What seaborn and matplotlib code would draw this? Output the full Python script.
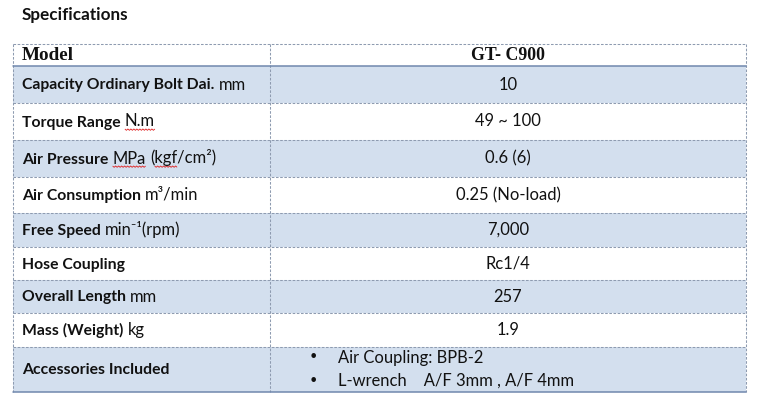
import numpy as np
import matplotlib
matplotlib.use("Agg")
import matplotlib.pyplot as plt
import seaborn as sns
from matplotlib.patches import Rectangle

# table content
title = "Specifications"
header_label = "Model"
header_value = "GT- C900"
spec_names = ["Capacity Ordinary Bolt Dai.", "Torque Range", "Air Pressure", "Air Consumption",
              "Free Speed", "Hose Coupling", "Overall Length", "Mass (Weight)", "Accessories Included"]
spec_units = ["mm", "N.m", "MPa (kgf/cm²)", "m³/min", "min⁻¹(rpm)", "", "mm", "kg", ""]
spec_values = ["10", "49 ~ 100", "0.6 (6)", "0.25 (No-load)", "7,000", "Rc1/4", "257", "1.9", None]
accessories = ["Air Coupling: BPB-2", "L-wrench    A/F 3mm , A/F 4mm"]
misspelled = ["N.m", "MPa", "kgf"]

# layout (pixels)
W, H = 760, 404
x_left, x_mid, x_right = 13, 270, 746
y_top, y_head = 44, 66
row_edges = [66, 103, 140, 177, 213, 247, 280, 313, 347, 392]
shade = "#D3DFEE"
dash_col = "#8E9BB0"
solid_col = "#7088AE"
txt_col = "#111111"
SANS = ["Lato", "DejaVu Sans"]
FS_B = 11.3   # bold labels
FS = 11.9     # regular text
BASE = 5.0    # baseline offset below row centre

sns.set_theme(style="white")
plt.rcParams["font.family"] = SANS

fig = plt.figure(figsize=(W / 100, H / 100), dpi=100)
ax = fig.add_axes([0, 0, 1, 1])
ax.set_xlim(0, W)
ax.set_ylim(H, 0)
ax.axis("off")
renderer = fig.canvas.get_renderer()


def text_width(s, weight, size):
    t = ax.text(0, 0, s, fontsize=size, fontweight=weight, family=SANS)
    w = t.get_window_extent(renderer).width
    t.remove()
    return w


space_w = text_width("x x", "normal", FS) - text_width("xx", "normal", FS)


def squiggle(x0, x1, y):
    xs = np.arange(x0, x1 + 0.1, 1.5)
    ys = y + np.where(np.arange(len(xs)) % 2 == 0, 0.0, 1.3)
    ax.plot(xs, ys, color="#E02020", lw=0.6, solid_capstyle="butt")


def draw_label(x, yc, name, unit):
    y = yc + BASE
    t = ax.text(x, y, name, fontsize=FS_B, fontweight="bold", va="baseline", ha="left", color=txt_col)
    x += t.get_window_extent(renderer).width + space_w
    for tok in unit.split(" "):
        if not tok:
            continue
        ax.text(x, y, tok, fontsize=FS, va="baseline", ha="left", color=txt_col)
        for word in misspelled:
            i = tok.find(word)
            if i >= 0:
                a = x + (text_width(tok[:i], "normal", FS) if i > 0 else 0)
                b = a + text_width(word, "normal", FS)
                squiggle(a, b, y + 2.5)
        x += text_width(tok, "normal", FS) + space_w


# shaded rows
for i in range(len(spec_names)):
    if i % 2 == 0:
        ax.add_patch(Rectangle((x_left, row_edges[i]), x_right - x_left,
                               row_edges[i + 1] - row_edges[i], color=shade, lw=0, zorder=0))

dash = dict(color=dash_col, lw=0.75, linestyle=(0, (2.5, 1.5)), zorder=2)
solid = dict(color=solid_col, lw=1.1, zorder=3)

ax.plot([x_left, x_right], [y_top, y_top], **dash)
ax.plot([x_left, x_right], [y_head, y_head], **solid)
for y in row_edges[1:-1]:
    ax.plot([x_left, x_right], [y, y], **dash)
ax.plot([x_left, x_right], [row_edges[-1], row_edges[-1]], **solid)
for x in (x_left, x_mid, x_right):
    ax.plot([x, x], [y_top, row_edges[-1]], **dash)

# title and header
ax.text(22, 15, title, fontsize=12.3, fontweight="bold", va="center", color=txt_col)
ax.text(22, 55, header_label, fontsize=13.8, fontweight="bold", family="Liberation Serif",
        va="center", color=txt_col)
ax.text((x_mid + x_right) / 2, 55, header_value, fontsize=12.8, fontweight="bold",
        family="Liberation Serif", va="center", ha="center", color=txt_col)

# rows
for i, (name, unit, val) in enumerate(zip(spec_names, spec_units, spec_values)):
    yc = (row_edges[i] + row_edges[i + 1]) / 2
    draw_label(22, yc, name, unit)
    if val is not None:
        ax.text((x_mid + x_right) / 2, yc + BASE, val, fontsize=FS, va="baseline", ha="center",
                color=txt_col)
    else:
        top = row_edges[i]
        for j, item in enumerate(accessories):
            yy = top + 11 + j * 23
            ax.text(313, yy, "•", fontsize=FS_B, va="center", ha="center", color=txt_col,
                    family=["DejaVu Sans"])
            ax.text(338, yy + BASE, item, fontsize=FS, va="baseline", ha="left", color=txt_col)

fig.savefig("out.png", dpi=100, facecolor="white")
